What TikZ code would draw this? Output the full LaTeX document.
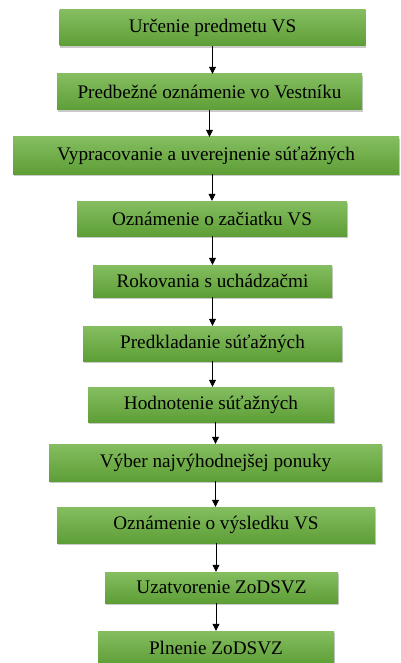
\documentclass[tikz,border=0pt]{standalone}
\usepackage{fontspec}
\setmainfont{Liberation Serif}
\usetikzlibrary{arrows.meta,shadows}

\definecolor{greenTop}{HTML}{84BE60}
\definecolor{greenBot}{HTML}{5E9E36}

\begin{document}
\begin{tikzpicture}[x=1pt, y=-1pt,
                stage/.style={rectangle, top color=greenTop, bottom color=greenBot, draw=none,
                    inner sep=0pt, font=\fontsize{19.2}{21}\selectfont,
                    drop shadow={shadow xshift=0.6pt, shadow yshift=-2.2pt, opacity=0.35, fill=black!60}},
                flow/.style={-{Triangle[length=7pt, width=7pt]}, line width=0.6pt}]
                \useasboundingbox (0,0) rectangle (400,663);

                \node [stage, minimum width=306pt, minimum height=36pt] (s1) at (212.5,28) {Určenie predmetu VS};
                \node [stage, minimum width=305pt, minimum height=36pt] (s2) at (209.5,92) {Predbežné oznámenie vo Vestníku};
                \node [stage, minimum width=386pt, minimum height=37pt] (s3) at (206,155.5) {Vypracovanie a uverejnenie súťažných};
                \node [stage, minimum width=270pt, minimum height=35pt] (s4) at (212,218.5) {Oznámenie o začiatku VS};
                \node [stage, minimum width=239pt, minimum height=32pt] (s5) at (212.5,281) {Rokovania s uchádzačmi};
                \node [stage, minimum width=259pt, minimum height=35pt] (s6) at (212.5,343.5) {Predkladanie súťažných};
                \node [stage, minimum width=246pt, minimum height=35pt] (s7) at (211,404.5) {Hodnotenie súťažných};
                \node [stage, minimum width=333pt, minimum height=37pt] (s8) at (215.5,462.5) {Výber najvýhodnejšej ponuky};
                \node [stage, minimum width=318pt, minimum height=36pt] (s9) at (216,525) {Oznámenie o výsledku VS};
                \node [stage, minimum width=233pt, minimum height=31pt] (s10) at (221.5,587.5) {Uzatvorenie ZoDSVZ};
                \node [stage, minimum width=236pt, minimum height=34pt] (s11) at (216,648) {Plnenie ZoDSVZ};

                \draw[flow] (s1.south) -- (s1.south |- s2.north);
                \draw[flow] (s2.south) -- (s2.south |- s3.north);
                \draw[flow] (s3.south -| s4) -- (s4.north);
                \draw[flow] (s4.south -| s5) -- (s5.north);
                \draw[flow] (s5.south) -- (s5.south |- s6.north);
                \draw[flow] (s6.south) -- (s6.south |- s7.north);
                \draw[flow] (s7.south -| s8) -- (s8.north);
                \draw[flow] (s8.south) -- (s8.south |- s9.north);
                \draw[flow] (s9.south) -- (s9.south |- s10.north);
                \draw[flow] (s10.south -| s11) -- (s11.north);
\end{tikzpicture}
\end{document}
